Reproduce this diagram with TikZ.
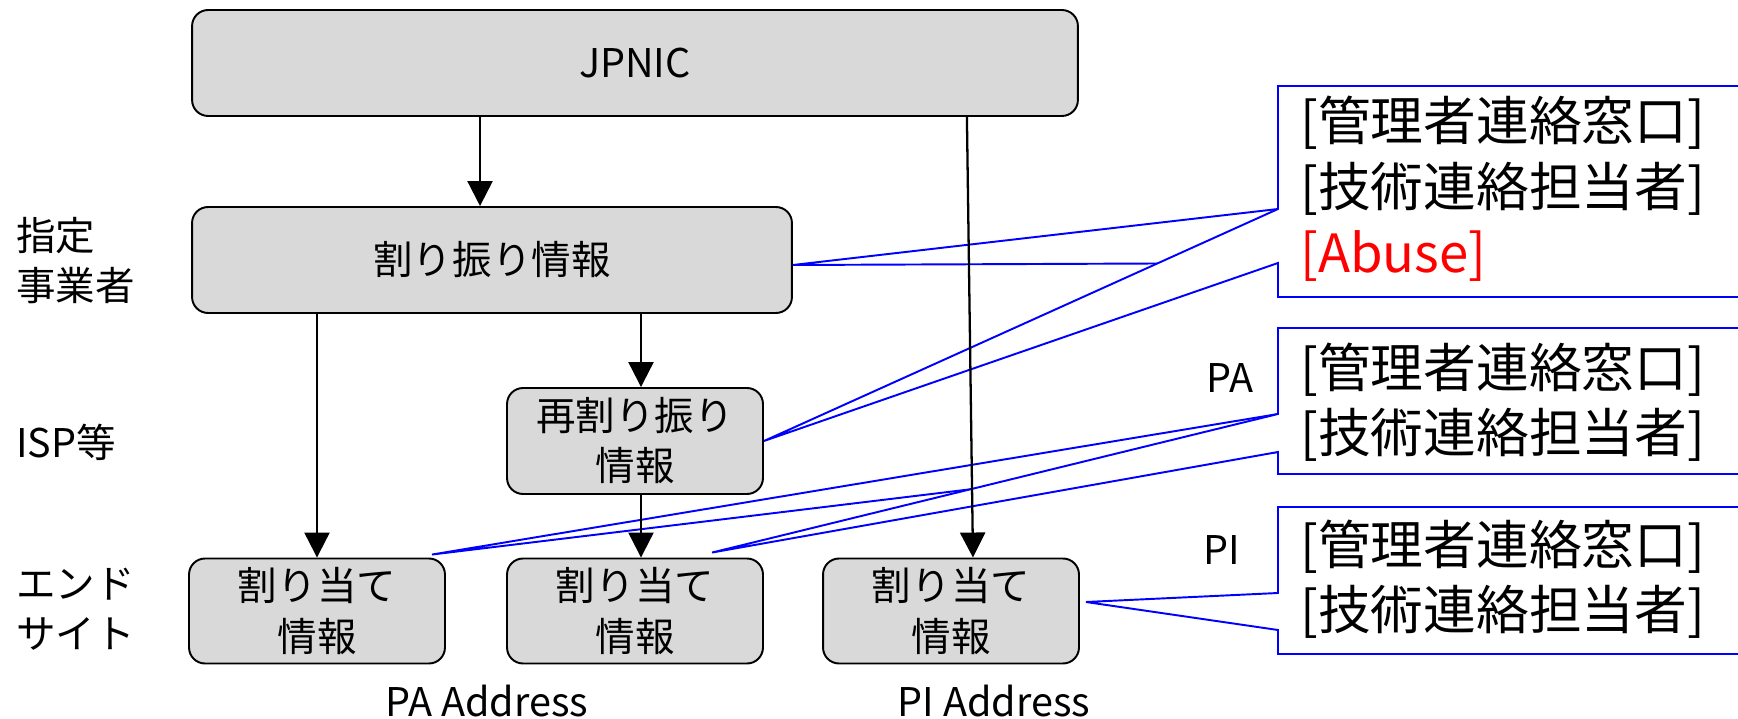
\documentclass[tikz,border=0pt]{standalone}
\usepackage{fontspec}
\setmainfont{Noto Sans CJK JP}
\usepackage{xcolor}
\usepackage{tikz}
\usetikzlibrary{positioning,arrows.meta}
\definecolor{boxgray}{HTML}{D9D9D9}

\begin{document}
\begin{tikzpicture}[x=0.02cm,y=-0.02cm,
    box/.style={draw,rounded corners=0.32cm,fill=boxgray,line width=1.1pt,align=center,inner sep=0pt,
      font=\fontsize{22.5}{28.5}\selectfont},
    flow/.style={line width=1.3pt,-{Triangle[length=0.5cm,width=0.5cm]}},
    callout/.style={draw=blue,fill=white,line width=1.1pt},
    lbl/.style={font=\fontsize{22.5}{28.5}\selectfont,inner sep=0pt},
    memo/.style={font=\fontsize{30}{37}\selectfont,align=left,anchor=west,inner sep=0pt}]
    \clip (0,0) rectangle (1738,719);
    \node[box,minimum width=17.72cm,minimum height=2.12cm] (jpnic) at (635,63) {JPNIC};
    \node[box,minimum width=12cm,minimum height=2.12cm] (alloc) at (492,260) {割り振り情報};
    \node[box,minimum width=5.12cm,minimum height=2.12cm] (realloc) at (635,441) {再割り振り\\情報};
    \foreach \i/\x in {1/317,2/635,3/951}{
      \node[box,minimum width=5.12cm,minimum height=2.1cm] (e_\i) at (\x,611) {割り当て\\情報};
    }
    \node[lbl,anchor=west,align=left] (l_1) at (16,261) {指定\\事業者};
    \node[lbl,anchor=west] (l_2) at (16,442) {ISP等};
    \node[lbl,anchor=west,align=left] (l_3) at (16,609) {エンド\\サイト};
    % tips of the callouts
    \coordinate (t_a1) at ([yshift=-0.1cm]alloc.east);
    \coordinate (t_a2) at (realloc.east);
    \coordinate (t_b1) at ([xshift=-0.28cm,yshift=0.06cm]e_1.north east);
    \coordinate (t_b2) at ([xshift=1.54cm,yshift=0.1cm]e_2.north);
    \coordinate (t_c) at ([xshift=0.12cm,yshift=0.18cm]e_3.east);
    \foreach \t/\ya/\yb/\yc/\yd in {t_a1/86/297/209/263,t_a2/86/297/209/263,
        t_b1/328/474/414/452,t_b2/328/474/414/452,t_c/507/654/593/630}{
      \draw[callout] (1278,\ya) -- (1800,\ya) -- (1800,\yb) -- (1278,\yb) -- (1278,\yd)
        -- (\t) -- (1278,\yc) -- cycle;
    }
    \node[memo,font=\fontsize{30}{37.5}\selectfont] (m_a) at (1300,189) {[管理者連絡窓口]\\{}[技術連絡担当者]\\{}\textcolor{red}{[Abuse]}};
    \node[memo] (m_b) at (1300,402) {[管理者連絡窓口]\\{}[技術連絡担当者]};
    \node[memo] (m_c) at (1300,579) {[管理者連絡窓口]\\{}[技術連絡担当者]};
    \node[lbl] (pa) at (1230,378) {PA};
    \node[lbl] (pi) at (1222,550) {PI};
    \node[lbl] (pa_addr) at (487,701) {PA Address};
    \node[lbl] (pi_addr) at (994,701) {PI Address};
    % arrows
    \draw[flow] ([xshift=-3.1cm]jpnic.south) coordinate (j_a) -- (j_a |- alloc.north);
    \draw[flow] ([xshift=-2.24cm]jpnic.south east) -- ([xshift=0.44cm]e_3.north);
    \draw[flow] (e_1.north |- alloc.south) -- (e_1.north);
    \draw[flow] ([xshift=0.12cm]realloc.north |- alloc.south) -- ([xshift=0.12cm]realloc.north);
    \draw[flow] ([xshift=0.12cm]realloc.south) -- ([xshift=0.12cm]e_2.north);
\end{tikzpicture}
\end{document}
